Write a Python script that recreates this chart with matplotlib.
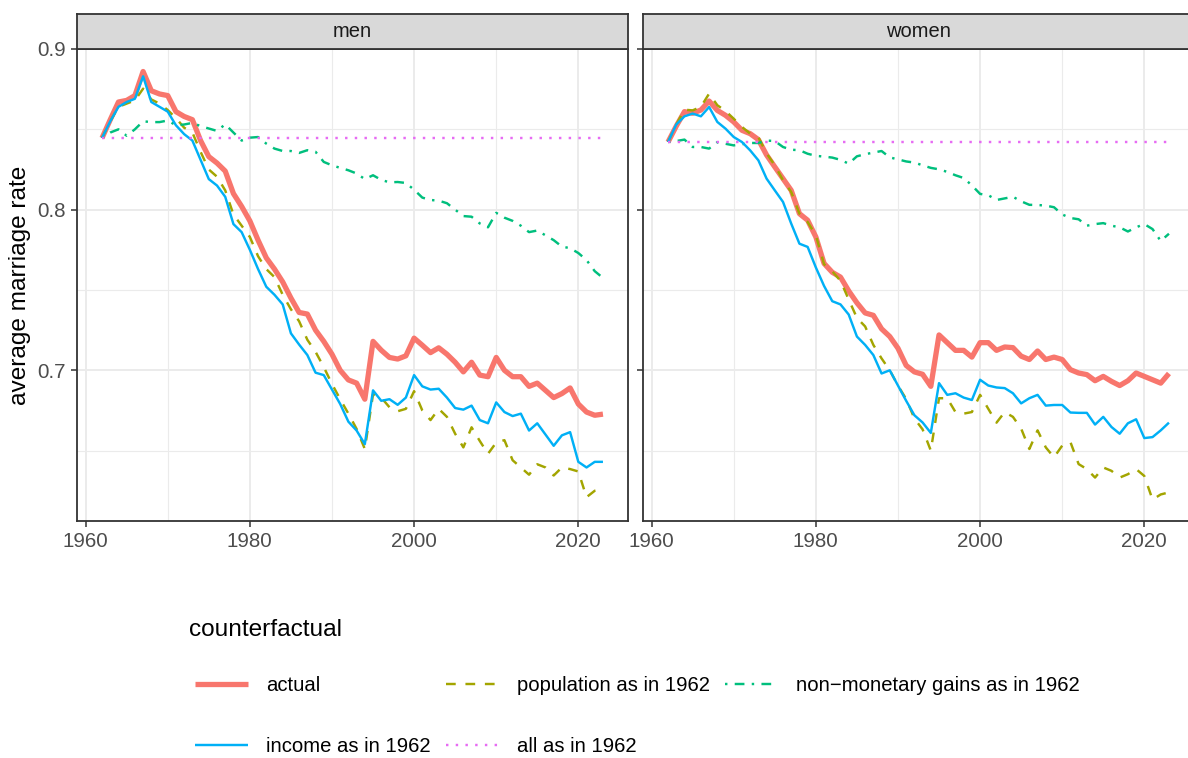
import numpy as np
import matplotlib.pyplot as plt
from matplotlib.lines import Line2D

plt.rcParams['font.family'] = ['Liberation Sans', 'DejaVu Sans']

years = np.arange(1962, 2024)

# men
men_actual = [
    0.8446, 0.856, 0.867, 0.868, 0.871, 0.886, 0.874, 0.872, 0.871, 0.861,
    0.858, 0.856, 0.843, 0.833, 0.829, 0.824, 0.810, 0.802, 0.793, 0.781,
    0.770, 0.763, 0.755, 0.745, 0.736, 0.735, 0.725, 0.718, 0.710, 0.700,
    0.694, 0.692, 0.682, 0.718, 0.7125, 0.708, 0.707, 0.709, 0.720, 0.7156,
    0.711, 0.714, 0.710, 0.705, 0.699, 0.705, 0.697, 0.696, 0.708, 0.700,
    0.696, 0.696, 0.690, 0.692, 0.6875, 0.683, 0.6855, 0.689, 0.679, 0.674,
    0.672, 0.6727]
men_population = [
    0.8446, 0.855, 0.864, 0.866, 0.868, 0.8753, 0.8686, 0.866, 0.862, 0.857,
    0.851, 0.848, 0.836, 0.825, 0.8205, 0.812, 0.797, 0.790, 0.783, 0.771,
    0.763, 0.758, 0.747, 0.738, 0.7305, 0.719, 0.7115, 0.702, 0.6915, 0.682,
    0.673, 0.6635, 0.651, 0.685, 0.683, 0.677, 0.6745, 0.676, 0.687, 0.675,
    0.669, 0.676, 0.671, 0.6605, 0.652, 0.6645, 0.656, 0.648, 0.655, 0.6565,
    0.644, 0.6395, 0.635, 0.6415, 0.6395, 0.6345, 0.6395, 0.6385, 0.637, 0.621,
    0.625, 0.626]
men_nonmonetary = [
    0.8446, 0.848, 0.850, 0.846, 0.850, 0.855, 0.8545, 0.8545, 0.8555, 0.8525,
    0.853, 0.854, 0.852, 0.8505, 0.849, 0.8531, 0.848, 0.843, 0.8448, 0.8452,
    0.8411, 0.838, 0.8365, 0.8365, 0.8353, 0.837, 0.836, 0.8297, 0.8276, 0.826,
    0.8245, 0.8225, 0.819, 0.8214, 0.8185, 0.817, 0.8172, 0.8166, 0.8124, 0.8075,
    0.806, 0.8056, 0.804, 0.800, 0.796, 0.7956, 0.7914, 0.789, 0.798, 0.795,
    0.793, 0.790, 0.786, 0.787, 0.784, 0.781, 0.777, 0.776, 0.773, 0.7686,
    0.7617, 0.7575]
men_income = [
    0.8446, 0.855, 0.864, 0.867, 0.869, 0.883, 0.867, 0.864, 0.861, 0.8525,
    0.847, 0.843, 0.831, 0.819, 0.815, 0.808, 0.791, 0.786, 0.775, 0.763,
    0.752, 0.747, 0.741, 0.723, 0.716, 0.7095, 0.6985, 0.697, 0.688, 0.679,
    0.668, 0.6625, 0.654, 0.6875, 0.681, 0.682, 0.6785, 0.683, 0.697, 0.690,
    0.688, 0.6885, 0.683, 0.6765, 0.6755, 0.678, 0.669, 0.667, 0.680, 0.674,
    0.6715, 0.673, 0.6625, 0.667, 0.660, 0.653, 0.6595, 0.6615, 0.643, 0.6395,
    0.643, 0.643]
men_all = [0.8445] * len(years)

# women
women_actual = [
    0.8421, 0.852, 0.861, 0.860, 0.862, 0.8676, 0.8618, 0.8587, 0.8546, 0.8494,
    0.8473, 0.8436, 0.834, 0.8266, 0.8193, 0.812, 0.7975, 0.7934, 0.783, 0.7665,
    0.761, 0.758, 0.7494, 0.742, 0.7357, 0.7342, 0.7258, 0.721, 0.7137, 0.703,
    0.699, 0.6975, 0.690, 0.722, 0.7172, 0.7124, 0.7124, 0.7082, 0.7172, 0.7172,
    0.7124, 0.7145, 0.7141, 0.7088, 0.7067, 0.712, 0.7067, 0.7082, 0.7067, 0.7004,
    0.6983, 0.6973, 0.6935, 0.6962, 0.6931, 0.6905, 0.6935, 0.6983, 0.6962, 0.6941,
    0.692, 0.698]
women_population = [
    0.8421, 0.853, 0.8622, 0.8618, 0.864, 0.8722, 0.865, 0.8614, 0.8566, 0.8515,
    0.8473, 0.845, 0.835, 0.8276, 0.8183, 0.811, 0.7975, 0.7923, 0.784, 0.766,
    0.7616, 0.7557, 0.7441, 0.7326, 0.7273, 0.7158, 0.7074, 0.700, 0.6905, 0.6821,
    0.670, 0.6632, 0.650, 0.6826, 0.6826, 0.674, 0.673, 0.674, 0.6847, 0.676,
    0.6674, 0.674, 0.671, 0.6637, 0.651, 0.6626, 0.652, 0.6458, 0.6531, 0.6553,
    0.6416, 0.6385, 0.6332, 0.6395, 0.6374, 0.6332, 0.6353, 0.6385, 0.6342, 0.6195,
    0.6227, 0.624]
women_nonmonetary = [
    0.8421, 0.8427, 0.8436, 0.839, 0.839, 0.838, 0.842, 0.841, 0.840, 0.8407,
    0.8415, 0.8415, 0.843, 0.8427, 0.839, 0.8373, 0.837, 0.8348, 0.8335, 0.833,
    0.8324, 0.831, 0.8286, 0.8332, 0.8345, 0.8355, 0.8365, 0.8325, 0.8313, 0.830,
    0.8293, 0.8276, 0.826, 0.8251, 0.8235, 0.8214, 0.8197, 0.8151, 0.8098, 0.809,
    0.806, 0.807, 0.808, 0.8052, 0.803, 0.8029, 0.8025, 0.8015, 0.797, 0.7948,
    0.794, 0.790, 0.791, 0.7916, 0.790, 0.789, 0.7864, 0.789, 0.791, 0.7879,
    0.7805, 0.785]
women_income = [
    0.8421, 0.853, 0.8581, 0.8598, 0.8581, 0.8639, 0.8546, 0.8504, 0.8452, 0.8421,
    0.8369, 0.8307, 0.8193, 0.812, 0.8048, 0.7913, 0.7788, 0.7768, 0.764, 0.7525,
    0.743, 0.741, 0.7347, 0.721, 0.7158, 0.7095, 0.698, 0.700, 0.6905, 0.681,
    0.672, 0.6675, 0.661, 0.692, 0.6847, 0.6857, 0.683, 0.6815, 0.6941, 0.6905,
    0.6893, 0.6889, 0.6857, 0.6794, 0.6826, 0.6847, 0.678, 0.6784, 0.6784, 0.6737,
    0.6735, 0.6735, 0.6662, 0.671, 0.6647, 0.6605, 0.667, 0.6695, 0.6578, 0.6584,
    0.6626, 0.6674]
women_all = [0.8421] * len(years)

labels = ["actual", "population as in 1962", "non\u2212monetary gains as in 1962",
          "income as in 1962", "all as in 1962"]
colors = ["#F8766D", "#A3A500", "#00BF7D", "#00B0F6", "#E76BF3"]
styles = ["-", (0, (4, 4)), (0, (1, 3, 4, 3)), "-", (0, (1, 3))]
widths = [3.8, 1.75, 1.75, 1.75, 1.75]

panels = {
    "men": [men_actual, men_population, men_nonmonetary, men_income, men_all],
    "women": [women_actual, women_population, women_nonmonetary, women_income, women_all],
}

W, H = 1188, 758


def box(x0, y0, x1, y1):
    # pixel box -> figure fraction rect
    return [x0 / W, 1 - y1 / H, (x1 - x0) / W, (y1 - y0) / H]


fig = plt.figure(figsize=(W / 100, H / 100), dpi=100)

allvals = np.concatenate([np.array(v) for p in panels.values() for v in p])
ylo, yhi = allvals.min(), allvals.max()
ypad = 0.05 * (yhi - ylo)
xpad = 0.05 * (years[-1] - years[0])

grid = "#EBEBEB"
dark = "#333333"
positions = {"men": (77, 628), "women": (643, 1194)}

for name, data in panels.items():
    x0, x1 = positions[name]
    ax = fig.add_axes(box(x0, 49, x1, 521))
    for vals, col, ls, lw, lab in zip(data, colors, styles, widths, labels):
        ax.plot(years, vals, color=col, linestyle=ls, linewidth=lw, label=lab,
                solid_capstyle="butt", dash_capstyle="butt", solid_joinstyle="round")
    ax.set_xlim(years[0] - xpad, years[-1] + xpad)
    ax.set_ylim(ylo - ypad, yhi + ypad)
    ax.set_xticks([1960, 1980, 2000, 2020])
    ax.set_xticks([1970, 1990, 2010], minor=True)
    ax.set_yticks([0.7, 0.8, 0.9])
    ax.set_yticks([0.65, 0.75, 0.85], minor=True)
    ax.grid(True, which="major", color=grid, linewidth=1.4)
    ax.grid(True, which="minor", color=grid, linewidth=0.8)
    ax.set_axisbelow(True)
    ax.tick_params(which="major", length=4.3, width=1.1, color=dark,
                   labelsize=14.8, labelcolor="#4D4D4D", pad=3.5)
    ax.tick_params(which="minor", length=0)
    for s in ax.spines.values():
        s.set_color(dark)
        s.set_linewidth(1.3)
    if name == "men":
        ax.set_yticklabels(["0.7", "0.8", "0.9"])
        ax.set_ylabel("average marriage rate", fontsize=17.6, labelpad=5)
    else:
        ax.tick_params(axis="y", labelleft=False)

    # facet strip
    sax = fig.add_axes(box(x0, 14, x1, 49))
    sax.set_facecolor("#D9D9D9")
    sax.set_xticks([])
    sax.set_yticks([])
    for s in sax.spines.values():
        s.set_color(dark)
        s.set_linewidth(1.3)
    sax.text(0.5, 0.5, name, ha="center", va="center", fontsize=14.5,
             color="#1A1A1A", transform=sax.transAxes)

handles = [Line2D([], [], color=c, linestyle=ls, linewidth=lw,
                  solid_capstyle="butt", dash_capstyle="butt")
           for c, ls, lw in zip(colors, styles, widths)]
# row-wise fill for 3 columns
order = [0, 3, 1, 4, 2]
leg = fig.legend([handles[i] for i in order], [labels[i] for i in order],
                 loc="upper left", bbox_to_anchor=(195 / W, 1 - 619 / H),
                 ncol=3, frameon=False, fontsize=14.6, title="counterfactual",
                 title_fontsize=17.6, alignment="left", handlelength=2.6,
                 handletextpad=0.9, columnspacing=0.75, labelspacing=2.1,
                 borderpad=0, borderaxespad=0)
leg._legend_box.sep = 25
leg.get_title().set_position((-6, 0))

fig.savefig("out.png", dpi=100)
